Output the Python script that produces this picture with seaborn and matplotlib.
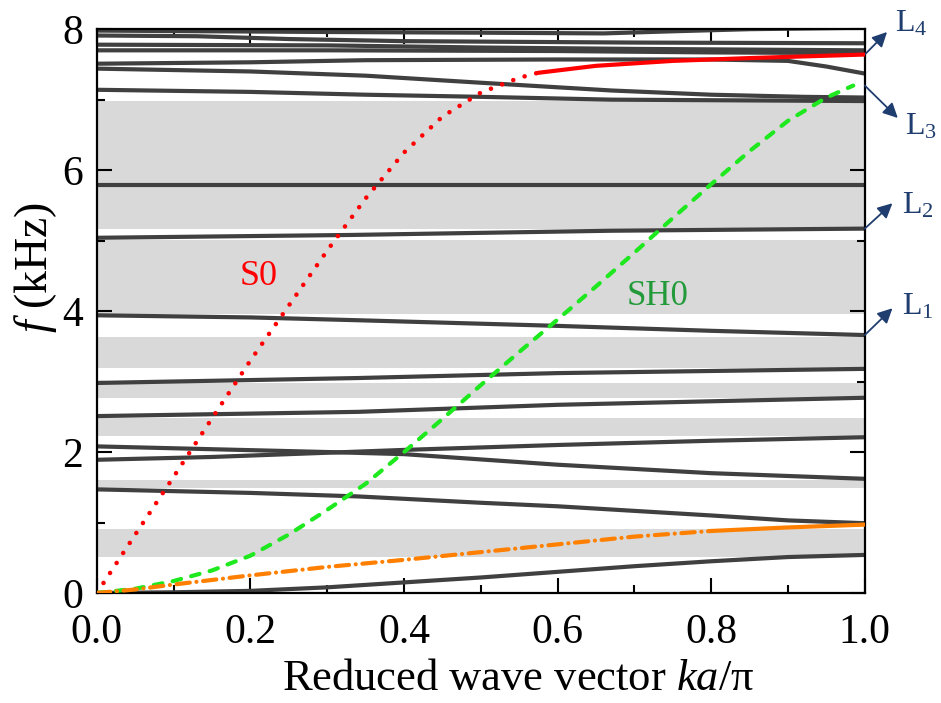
import numpy as np
import pandas as pd
import matplotlib
matplotlib.use("Agg")
import matplotlib.pyplot as plt
import seaborn as sns

# ---------------- data ----------------
# gray band gaps (lower, upper) in kHz
band_lo = [0.51, 1.49, 2.23, 2.77, 3.19, 3.96, 5.17]
band_hi = [0.91, 1.61, 2.48, 2.98, 3.63, 5.01, 6.98]

# dark gray dispersion branches
b1_x = [0, 0.1, 0.2, 0.3, 0.4, 0.5, 0.6, 0.7, 0.8, 0.9, 1.0]
b1_y = [0, 0.01, 0.03, 0.08, 0.15, 0.22, 0.30, 0.38, 0.45, 0.51, 0.54]
b2_x = [0, 0.2, 0.34, 0.5, 0.6, 0.8, 0.9, 1.0]
b2_y = [1.47, 1.42, 1.37, 1.28, 1.23, 1.10, 1.03, 0.99]
b3_x = [0, 0.15, 0.3, 0.4, 0.6, 0.8, 1.0]
b3_y = [1.89, 1.93, 1.99, 2.03, 2.10, 2.16, 2.21]
b4_x = [0, 0.15, 0.3, 0.4, 0.6, 0.8, 1.0]
b4_y = [2.08, 2.04, 2.00, 1.97, 1.82, 1.70, 1.62]
b5_x = [0, 0.34, 0.6, 1.0]
b5_y = [2.51, 2.57, 2.67, 2.77]
b6_x = [0, 0.34, 0.6, 1.0]
b6_y = [2.98, 3.05, 3.12, 3.18]
b7_x = [0, 0.2, 0.34, 0.6, 0.8, 1.0]
b7_y = [3.94, 3.91, 3.87, 3.79, 3.72, 3.66]
b8_x = [0, 0.33, 0.67, 1.0]
b8_y = [5.04, 5.08, 5.14, 5.17]
b9_x = [0, 1.0]
b9_y = [5.79, 5.79]
u7_x = [0, 0.2, 0.35, 0.5, 0.67, 1.0]
u7_y = [7.14, 7.11, 7.07, 7.04, 7.00, 6.98]
u6_x = [0, 0.2, 0.35, 0.5, 0.67, 0.8, 0.92, 1.0]
u6_y = [7.44, 7.40, 7.34, 7.24, 7.13, 7.07, 7.04, 7.03]
u5_x = [0, 0.2, 0.35, 0.6, 0.8, 0.9, 0.95, 1.0]
u5_y = [7.51, 7.53, 7.56, 7.57, 7.57, 7.55, 7.47, 7.37]
u4_x = [0, 0.3, 0.6, 0.8, 1.0]
u4_y = [7.70, 7.70, 7.69, 7.67, 7.66]
u3_x = [0, 0.3, 0.5, 0.7, 1.0]
u3_y = [7.78, 7.77, 7.74, 7.72, 7.70]
u2_x = [0, 0.13, 0.25, 0.4, 0.7, 1.0]
u2_y = [7.91, 7.90, 7.86, 7.83, 7.81, 7.80]
u1_x = [0, 0.3, 0.5, 0.66, 0.75, 0.85, 1.0]
u1_y = [7.98, 7.96, 7.95, 7.94, 7.97, 8.00, 8.02]

# S0 mode (dotted part, then solid part)
s0_dot_x = [0, 0.05, 0.1, 0.15, 0.2, 0.25, 0.3, 0.35, 0.4, 0.45, 0.5, 0.55, 0.574]
s0_dot_y = [0, 0.83, 1.65, 2.48, 3.30, 4.08, 4.86, 5.60, 6.25, 6.76, 7.10, 7.31, 7.38]
s0_sol_x = [0.574, 0.65, 0.75, 0.85, 1.0]
s0_sol_y = [7.38, 7.48, 7.55, 7.59, 7.64]

# SH0 mode
sh0_x = [0, 0.05, 0.1, 0.15, 0.2, 0.25, 0.3, 0.35, 0.4, 0.45, 0.5, 0.55,
         0.6, 0.65, 0.7, 0.75, 0.8, 0.85, 0.9, 0.95, 0.985]
sh0_y = [0, 0.06, 0.17, 0.32, 0.53, 0.83, 1.18, 1.55, 2.00, 2.47, 2.95, 3.42,
         3.88, 4.35, 4.83, 5.32, 5.80, 6.27, 6.70, 7.03, 7.20]

# orange (flexural) mode
fl_dd_x = [0, 0.05, 0.1, 0.2, 0.3, 0.4, 0.5, 0.6, 0.7, 0.8]
fl_dd_y = [0, 0.05, 0.12, 0.25, 0.37, 0.47, 0.58, 0.69, 0.80, 0.88]
fl_sol_x = [0.8, 0.9, 1.0]
fl_sol_y = [0.88, 0.93, 0.97]

branches = [(b1_x, b1_y), (b2_x, b2_y), (b3_x, b3_y), (b4_x, b4_y), (b5_x, b5_y),
            (b6_x, b6_y), (b7_x, b7_y), (b8_x, b8_y), (b9_x, b9_y), (u7_x, u7_y),
            (u6_x, u6_y), (u5_x, u5_y), (u4_x, u4_y), (u3_x, u3_y), (u2_x, u2_y),
            (u1_x, u1_y)]

line_labels = ["L$_1$", "L$_2$", "L$_3$", "L$_4$"]
line_start_y = [3.66, 5.17, 7.20, 7.64]
arrow_tip = [(1.036, 4.04), (1.036, 5.53), (1.043, 6.74), (1.029, 7.96)]
label_pos = [(1.048, 4.06), (1.048, 5.50), (1.052, 6.62), (1.039, 8.07)]

# ---------------- style ----------------
sns.set_theme(style="ticks")
plt.rcParams["font.family"] = ["Liberation Serif", "DejaVu Serif"]
plt.rcParams["mathtext.fontset"] = "custom"
plt.rcParams["mathtext.rm"] = "Liberation Serif"
plt.rcParams["mathtext.it"] = "Liberation Serif:italic"
plt.rcParams["text.color"] = "black"
plt.rcParams["axes.labelcolor"] = "black"
plt.rcParams["xtick.color"] = "black"
plt.rcParams["ytick.color"] = "black"

fig = plt.figure(figsize=(9.41, 7.03), dpi=100)
ax = fig.add_axes([0.103, 0.1565, 0.816, 0.802])

# bands
for lo, hi in zip(band_lo, band_hi):
    ax.fill_between([0, 1], [lo, lo], [hi, hi], color="#d9d9d9", lw=0, zorder=0)

# branches
rows = []
for i, (bx, by) in enumerate(branches):
    for xx, yy in zip(bx, by):
        rows.append({"k": xx, "f": yy, "branch": i})
df = pd.DataFrame(rows)
sns.lineplot(data=df, x="k", y="f", units="branch", estimator=None, sort=False,
             color="#404040", lw=3.0, ax=ax, zorder=2, solid_capstyle="butt")

# S0
sns.lineplot(x=s0_dot_x, y=s0_dot_y, ax=ax, color="#ff0000", lw=3.3,
             linestyle=(0, (0.01, 2.6)), dash_capstyle="round", zorder=4)
sns.lineplot(x=s0_sol_x, y=s0_sol_y, ax=ax, color="#ff0000", lw=3.0, zorder=4)
# SH0
sns.lineplot(x=sh0_x, y=sh0_y, ax=ax, color="#1ee81e", lw=3.0,
             linestyle=(0, (2.1, 2.5)), dash_capstyle="round", zorder=4)
# flexural
sns.lineplot(x=fl_dd_x, y=fl_dd_y, ax=ax, color="#ff8000", lw=3.0,
             linestyle=(0, (3.2, 1.6, 0.01, 1.6)), dash_capstyle="round", zorder=4)
sns.lineplot(x=fl_sol_x, y=fl_sol_y, ax=ax, color="#ff8000", lw=3.0, zorder=4)

ax.text(0.186, 4.37, "S0", color="#ff0000", fontsize=26, ha="left", va="baseline")
ax.text(0.69, 4.09, "SH0", color="#229a3a", fontsize=25, ha="left", va="baseline")

for lab, ys, (tx, ty), (lx, ly) in zip(line_labels, line_start_y, arrow_tip, label_pos):
    ax.annotate("", xy=(tx, ty), xytext=(1.0, ys), xycoords="data", textcoords="data",
                arrowprops=dict(arrowstyle="-|>", color="#1f3d6e", lw=1.3,
                                mutation_scale=22, shrinkA=0, shrinkB=0),
                annotation_clip=False)
    ax.text(lx, ly, lab, color="#1f3d6e", fontsize=23, ha="left", va="center",
            clip_on=False)

ax.set_xlim(0, 1.0)
ax.set_ylim(0, 8)
ax.set_xticks([0, 0.2, 0.4, 0.6, 0.8, 1.0])
ax.set_xticklabels(["0.0", "0.2", "0.4", "0.6", "0.8", "1.0"])
ax.set_xticks([0.1, 0.3, 0.5, 0.7, 0.9], minor=True)
ax.set_yticks([0, 2, 4, 6, 8])
ax.set_yticks([1, 3, 5, 7], minor=True)
ax.tick_params(which="both", direction="in", top=True, right=True, width=1.5,
               color="black", labelcolor="black")
ax.tick_params(which="major", length=11, labelsize=30)
ax.tick_params(axis="x", which="major", pad=15)
ax.tick_params(axis="y", which="major", pad=10)
ax.tick_params(which="minor", length=6)
for s in ax.spines.values():
    s.set_linewidth(1.6)
    s.set_color("black")

ax.set_xlabel("Reduced wave vector $ka$/π", fontsize=32)
ax.set_ylabel("$f$ (kHz)", fontsize=33)
ax.xaxis.set_label_coords(0.549, -0.117)
ax.yaxis.set_label_coords(-0.05, 0.578)

fig.savefig("out.png", dpi=100)
